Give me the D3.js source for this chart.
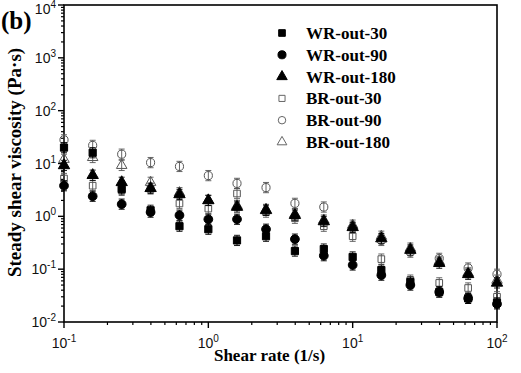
<!DOCTYPE html>
<html>
<head>
<meta charset="utf-8">
<script src="https://cdn.jsdelivr.net/npm/d3@7"></script>
<style>
  body { margin: 0; background: #fff; }
  svg { display: block; }
</style>
</head>
<body>
<div id="root"></div>
<script>
// shear rates (1/s)
const shearRates = [0.1, 0.158, 0.251, 0.398, 0.631, 1, 1.58, 2.51, 3.98, 6.31, 10, 15.8, 25.1, 39.8, 63.1, 100];

const seriesNames = ['WR-out-30', 'WR-out-90', 'WR-out-180', 'BR-out-30', 'BR-out-90', 'BR-out-180'];

const wrOut30 = [20, 16, 3.3, 1.3, 0.65, 0.57, 0.35, 0.42, 0.22, 0.24, 0.17, 0.096, 0.057, 0.037, 0.028, 0.023];
const wrOut90 = [3.8, 2.4, 1.7, 1.2, 1.05, 0.88, 0.88, 0.57, 0.37, 0.18, 0.12, 0.077, 0.05, 0.037, 0.028, 0.022];
const wrOut180 = [9.2, 6.0, 4.4, 3.4, 2.6, 2.0, 1.5, 1.3, 1.05, 0.8, 0.62, 0.38, 0.23, 0.13, 0.08, 0.055];
const brOut30 = [5.2, 3.8, 3.1, 3.3, 1.75, 1.4, 2.7, 1.2, 0.92, 0.65, 0.42, 0.155, 0.062, 0.055, 0.044, 0.03];
const brOut90 = [28, 22, 15, 10.4, 8.8, 5.9, 4.2, 3.5, 1.76, 1.5, 0.6, 0.35, 0.21, 0.16, 0.105, 0.08];
const brOut180 = [12, 13, 9.2, 4.4, 2.8, 2.0, 1.6, 1.35, 1.1, 0.85, 0.68, 0.42, 0.25, 0.14, 0.085, 0.062];

const xTickExps = [-1, 0, 1, 2];
const yTickExps = [-2, -1, 0, 1, 2, 3, 4];

const width = 521, height = 373;
const margin = {left: 64, top: 5, right: 24, bottom: 51};
const plotW = width - margin.left - margin.right;
const plotH = height - margin.top - margin.bottom;

const serif = '"Liberation Serif", "Times New Roman", serif';
const sans = '"Liberation Sans", Arial, sans-serif';

const svg = d3.select('#root')
  .append('svg')
  .attr('width', width)
  .attr('height', height);

const x = d3.scaleLog().domain([0.1, 100]).range([margin.left, margin.left + plotW]);
const y = d3.scaleLog().domain([0.01, 10000]).range([margin.top + plotH, margin.top]);

// minor + major ticks
const xMinor = [];
const yMinor = [];
for (let e = -1; e < 2; e++) for (let m = 2; m <= 9; m++) xMinor.push(m * Math.pow(10, e));
for (let e = -2; e < 4; e++) for (let m = 2; m <= 9; m++) yMinor.push(m * Math.pow(10, e));

const xAxis = svg.append('g')
  .attr('transform', `translate(0,${margin.top + plotH})`);
xAxis.selectAll('line.minor').data(xMinor).enter().append('line')
  .attr('x1', d => x(d)).attr('x2', d => x(d))
  .attr('y1', 0).attr('y2', 3)
  .attr('stroke', '#000').attr('stroke-width', 1.2);
xAxis.selectAll('line.major').data(xTickExps).enter().append('line')
  .attr('x1', d => x(Math.pow(10, d))).attr('x2', d => x(Math.pow(10, d)))
  .attr('y1', 0).attr('y2', 6)
  .attr('stroke', '#000').attr('stroke-width', 1.4);
const xLab = xAxis.selectAll('text').data(xTickExps).enter().append('text')
  .attr('x', d => x(Math.pow(10, d)))
  .attr('y', 26)
  .attr('text-anchor', 'middle')
  .attr('font-family', sans)
  .attr('font-size', 14)
  .attr('fill', '#111');
xLab.append('tspan').text('10');
xLab.append('tspan').attr('dy', -6).attr('font-size', 10).text(d => d < 0 ? '-' + (-d) : d);

const yAxis = svg.append('g')
  .attr('transform', `translate(${margin.left},0)`);
yAxis.selectAll('line.minor').data(yMinor).enter().append('line')
  .attr('y1', d => y(d)).attr('y2', d => y(d))
  .attr('x1', 0).attr('x2', -3)
  .attr('stroke', '#000').attr('stroke-width', 1.2);
yAxis.selectAll('line.major').data(yTickExps).enter().append('line')
  .attr('y1', d => y(Math.pow(10, d))).attr('y2', d => y(Math.pow(10, d)))
  .attr('x1', 0).attr('x2', -6)
  .attr('stroke', '#000').attr('stroke-width', 1.4);
const yLab = yAxis.selectAll('text').data(yTickExps).enter().append('text')
  .attr('x', -8)
  .attr('y', d => Math.max(y(Math.pow(10, d)) + 5, 14))
  .attr('text-anchor', 'end')
  .attr('font-family', sans)
  .attr('font-size', 14)
  .attr('fill', '#111');
yLab.append('tspan').text('10');
yLab.append('tspan').attr('dy', -6).attr('font-size', 10).text(d => d < 0 ? '-' + (-d) : d);

// frame
svg.append('rect')
  .attr('x', margin.left).attr('y', margin.top)
  .attr('width', plotW).attr('height', plotH)
  .attr('fill', 'none')
  .attr('stroke', '#000')
  .attr('stroke-width', 1.6);

// axis titles
svg.append('text')
  .attr('x', margin.left + plotW / 2 - 11)
  .attr('y', 361)
  .attr('text-anchor', 'middle')
  .attr('font-family', serif)
  .attr('font-weight', 'bold')
  .attr('font-size', 17)
  .text('Shear rate (1/s)');

svg.append('text')
  .attr('transform', `translate(21,${margin.top + plotH / 2 - 1}) rotate(-90)`)
  .attr('text-anchor', 'middle')
  .attr('font-family', serif)
  .attr('font-weight', 'bold')
  .attr('font-size', 19)
  .text('Steady shear viscosity (Pa\u00b7s)');

svg.append('text')
  .attr('x', 1).attr('y', 29)
  .attr('font-family', serif)
  .attr('font-weight', 'bold')
  .attr('font-size', 25)
  .text('(b)');

// series
const seriesValues = [wrOut30, wrOut90, wrOut180, brOut30, brOut90, brOut180];
const shapes = [d3.symbolSquare, d3.symbolCircle, d3.symbolTriangle, d3.symbolSquare, d3.symbolCircle, d3.symbolTriangle];
const filled = [true, true, true, false, false, false];
const sizes = [52, 60, 56, 44, 52, 48];

const series = seriesNames.map((name, i) => ({
  name,
  shape: shapes[i],
  filled: filled[i],
  size: sizes[i],
  points: shearRates.map((r, j) => ({r, v: seriesValues[i][j]}))
}));

const plot = svg.append('g');
// draw open markers first, filled on top like the original
const order = [3, 4, 5, 0, 1, 2];
order.forEach(i => {
  const s = series[i];
  const g = plot.append('g');
  // small error bars
  g.selectAll('path.err').data(s.points).enter().append('path')
    .attr('d', d => {
      const cx = x(d.r), y0 = y(d.v / 1.25), y1 = y(d.v * 1.25);
      return `M${cx},${y0}V${y1}M${cx - 3},${y0}H${cx + 3}M${cx - 3},${y1}H${cx + 3}`;
    })
    .attr('stroke', s.filled ? '#000' : '#555')
    .attr('stroke-width', 0.9)
    .attr('fill', 'none');
  g.selectAll('path.mark').data(s.points).enter().append('path')
    .attr('transform', d => `translate(${x(d.r)},${y(d.v)})`)
    .attr('d', d3.symbol().type(s.shape).size(s.size))
    .attr('fill', s.filled ? '#000' : 'none')
    .attr('stroke', s.filled ? '#000' : '#555')
    .attr('stroke-width', 1);
});

// legend
const legend = svg.append('g').attr('transform', 'translate(282,33)');
series.forEach((s, i) => {
  const row = legend.append('g').attr('transform', `translate(0,${i * 21.8})`);
  row.append('path')
    .attr('d', d3.symbol().type(s.shape).size(s.size * 0.85))
    .attr('fill', s.filled ? '#000' : 'none')
    .attr('stroke', s.filled ? '#000' : '#666')
    .attr('stroke-width', 1);
  row.append('text')
    .attr('x', 24)
    .attr('y', 6)
    .attr('font-family', serif)
    .attr('font-weight', 'bold')
    .attr('font-size', 17)
    .text(s.name);
});
</script>
</body>
</html>
